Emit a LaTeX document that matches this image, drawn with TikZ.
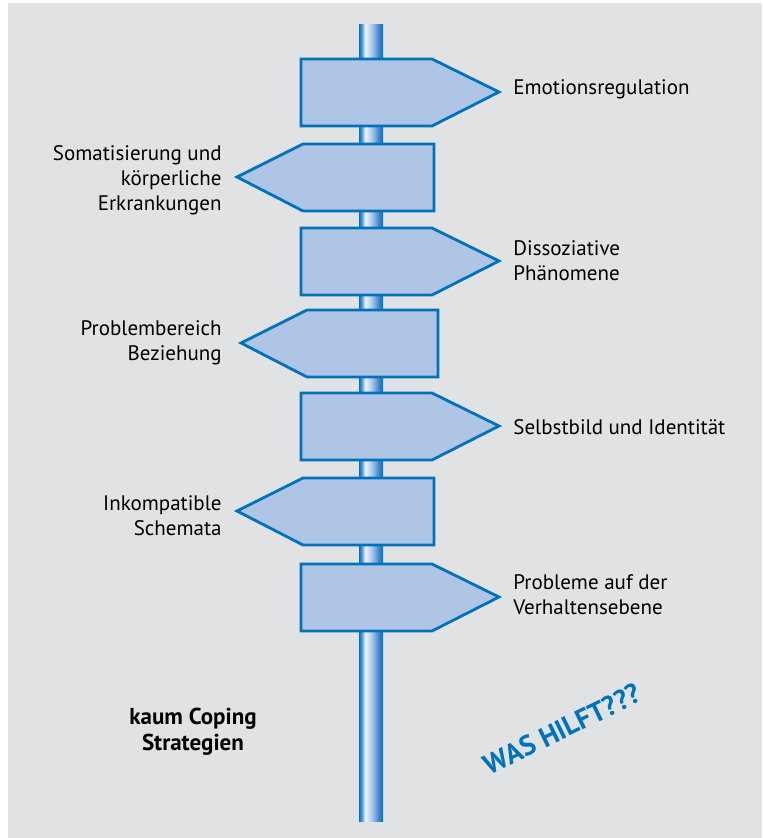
\documentclass[tikz,border=0pt]{standalone}
\usepackage{fontspec}
\setmainfont{PT Sans}
\usepackage{tikz}

\definecolor{bggray}{RGB}{225,226,228}
\definecolor{signfill}{RGB}{175,197,230}
\definecolor{signline}{RGB}{0,114,188}

\pgfdeclarehorizontalshading{pole}{100bp}{rgb(0bp)=(0,.45,.74); rgb(25bp)=(0,.45,.74);
  rgb(31bp)=(.35,.6,.85); rgb(38bp)=(.93,.96,1); rgb(53bp)=(.64,.76,.9);
  rgb(66bp)=(.25,.52,.8); rgb(75bp)=(0,.45,.74); rgb(100bp)=(0,.45,.74)}

\tikzset{
  sign/.style={draw=signline,fill=signfill,line width=1.4pt,line join=miter},
  lbl/.style={font=\fontsize{10.5}{12.5}\selectfont,inner sep=0pt}
}

\begin{document}
\begin{tikzpicture}[x=0.5pt,y=-0.5pt]

\useasboundingbox (0,0) rectangle (762,838);
\fill[bggray] (8,3) rectangle (762,838);

% pole
\shade[shading=pole] (359,25) rectangle (383,821);

% signs pointing right
\foreach \t in {59,228,393,564}
   \draw[sign] (301,\t) -- (432,\t) -- (499,\t+33) -- (432,\t+67) -- (301,\t+67) -- cycle;

% signs pointing left
\foreach \t/\s in {144/0,310/4,478/0}
   \draw[sign] (434+\s,\t) -- (303+\s,\t) -- (237+\s,\t+33) -- (303+\s,\t+67) -- (434+\s,\t+67) -- cycle;

% texts on the right
\node[lbl,anchor=west,align=left] (emo) at (513,89) {Emotionsregulation};
\node[lbl,anchor=west,align=left] (diss) at (513,261) {Dissoziative\\Phänomene};
\node[lbl,anchor=west,align=left] (selbst) at (513,427) {Selbstbild und Identität};
\node[lbl,anchor=west,align=left] (verh) at (513,595) {Probleme auf der\\Verhaltensebene};

% texts on the left
\node[lbl,anchor=east,align=right] (soma) at (222,180) {Somatisierung und\\körperliche\\Erkrankungen};
\node[lbl,anchor=east,align=right] (bez) at (222,343) {Problembereich\\Beziehung};
\node[lbl,anchor=east,align=right] (schema) at (222,516) {Inkompatible\\Schemata};

\node[lbl,align=center,font=\fontsize{11.5}{13}\selectfont\bfseries] (coping) at (193,732) {kaum Coping\\Strategien};
\node[inner sep=0pt,rotate=26,text=signline,font=\fontsize{14}{16}\selectfont\bfseries] (hilft) at (562,729) {WAS HILFT???};

\end{tikzpicture}
\end{document}
